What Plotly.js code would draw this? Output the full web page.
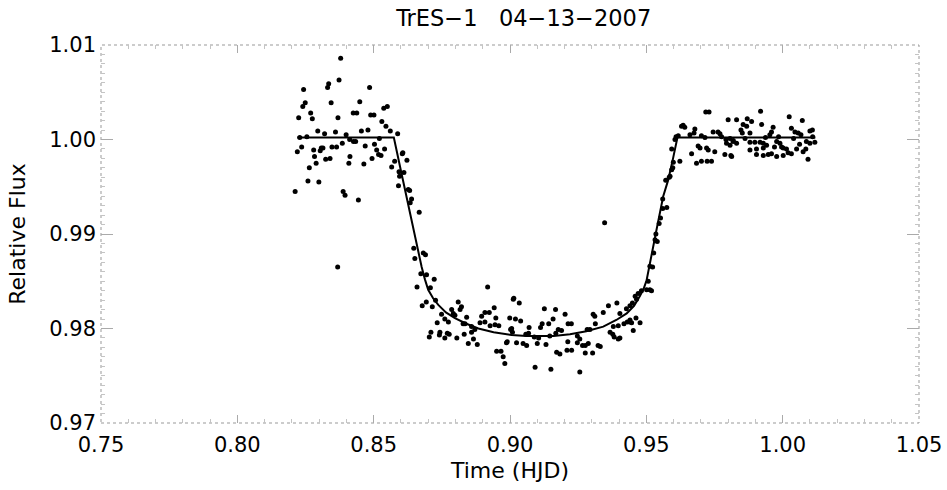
<!DOCTYPE html>
<html>
<head>
<meta charset="utf-8">
<script src="https://cdn.plot.ly/plotly-3.0.1.min.js"></script>
<style>html,body{margin:0;padding:0;background:#fff;}#chart{width:947px;height:490px;}</style>
</head>
<body>
<div id="chart"></div>
<script>
// Observed photometry: time (HJD - offset) and relative flux
const time = [
0.8379,0.8373,0.8335,0.8331,0.8243,0.8485,0.8249,0.8240,0.8344,0.8449,
0.8269,0.8275,0.8225,0.8369,0.8425,0.8438,0.8489,0.8501,0.8537,0.8550,
0.8530,0.8545,0.8561,0.8295,0.8320,0.8360,0.8399,0.8455,0.8479,0.8229,
0.8255,0.8412,0.8426,0.8434,0.8385,0.8469,0.8503,0.8521,0.8236,0.8220,
0.8280,0.8308,0.8314,0.8304,0.8347,0.8364,0.8511,0.8540,0.8518,0.8527,
0.8283,0.8324,0.8340,0.8413,0.8494,0.8289,0.8409,0.8464,0.8264,0.8566,
0.8577,0.8259,0.8299,0.8212,0.8388,0.8395,0.8444,0.8591,0.8607,0.8593,
0.8611,0.8368,
0.8588,0.8605,0.8622,0.8595,0.8627,0.8632,0.8639,0.8634,0.8667,0.8647,
0.8651,0.8682,0.8690,0.8673,0.8694,0.8722,0.8659,0.8708,0.8727,0.8693,
0.8678,0.8715,0.8918,0.9012,0.8810,0.8822,0.8817,0.8749,0.8761,0.8786,
0.8792,0.8798,0.8841,0.8733,0.8774,0.8828,0.8835,0.8859,0.8871,0.8908,
0.8924,0.8942,0.8890,0.8908,0.8927,0.8945,0.8948,0.8999,0.8710,0.8704,
0.8741,0.8743,0.8770,0.8761,0.8777,0.8805,0.8832,0.8847,0.8866,0.8880,
0.8951,0.8967,0.8975,0.8981,0.8990,0.9006,
0.9347,0.9014,0.9034,0.9126,0.9167,0.9202,0.8896,0.9020,0.9039,0.8959,
0.8859,0.9002,0.9009,0.9070,0.9112,0.9118,0.9142,0.9158,0.9177,0.9189,
0.9213,0.9225,0.9305,0.9311,0.9342,0.9361,0.9392,0.9313,0.9283,0.9293,
0.9247,0.9256,0.9247,0.9212,0.9146,0.9168,0.9068,0.9058,0.9089,0.9105,
0.9024,0.9048,0.9061,0.8987,0.9100,0.9132,0.9209,0.9226,0.9171,0.9183,
0.9266,0.9276,0.9287,0.9276,0.9303,0.9323,0.9331,0.9367,0.9377,0.9382,
0.9397,0.9403,0.9379,0.9397,0.9418,0.9440,0.9430,0.9446,0.9462,0.9477,
0.9452,0.9440,0.9459,0.9470,0.9482,0.9513,0.9519,0.9507,0.9513,0.9523,
0.9092,0.9150,0.9256,
0.9403,0.9427,0.9449,0.9464,0.9501,0.9440,0.9527,0.9535,0.9532,0.9540,
0.9547,0.9552,0.9560,0.9575,0.9560,0.9571,0.9584,0.9587,0.9593,0.9597,
0.9599,0.9593,0.9605,0.9609,0.9617,0.9623,0.9629,0.9641,0.9635,0.9666,
0.9684,0.9702,0.9723,0.9739,0.9660,0.9675,0.9678,0.9690,0.9697,0.9721,
0.9727,0.9751,0.9702,0.9715,0.9718,0.9730,0.9745,0.9763,0.9770,0.9776,
0.9792,0.9800,0.9831,0.9788,0.9810,0.9794,0.9818,0.9831,
0.9919,1.0024,1.0072,1.0109,1.0100,0.9855,0.9870,0.9886,0.9923,0.9847,
0.9852,0.9868,0.9880,0.9965,0.9959,0.9953,1.0032,1.0045,1.0057,1.0067,
0.9807,0.9819,0.9807,0.9880,0.9898,0.9917,0.9929,0.9941,0.9978,0.9990,
0.9996,1.0002,1.0014,1.0087,1.0100,1.0118,0.9880,0.9904,0.9929,0.9929,
0.9904,0.9978,1.0002,0.9813,1.0020,1.0032,1.0051,1.0075,1.0093,0.9947,
0.9959,0.9985,1.0040,1.0110,0.9937,0.9862,1.0062,0.9970,1.0085
];
const flux = [
1.0086,1.0063,1.0059,1.0055,1.0053,1.0055,1.0039,1.0035,1.0039,1.0040,
1.0028,1.0022,1.0023,1.0023,1.0028,1.0028,1.0026,1.0026,1.0033,1.0035,
1.0019,1.0014,1.0009,1.0009,1.0006,1.0008,1.0005,1.0009,1.0010,1.0002,
1.0003,1.0000,0.9998,0.9998,0.9996,0.9993,0.9995,1.0001,0.9992,0.9987,
0.9989,0.9991,0.9991,0.9988,0.9992,0.9992,0.9989,0.9990,0.9984,0.9983,
0.9982,0.9979,0.9980,0.9982,0.9980,0.9975,0.9975,0.9974,0.9970,0.9971,
0.9977,0.9956,0.9955,0.9945,0.9945,0.9941,0.9936,0.9951,0.9986,0.9966,
0.9965,0.9865,
1.0006,0.9985,0.9978,0.9961,0.9947,0.9946,0.9937,0.9933,0.9923,0.9885,
0.9874,0.9880,0.9878,0.9858,0.9857,0.9852,0.9844,0.9843,0.9830,0.9828,
0.9824,0.9823,0.9844,0.9831,0.9828,0.9823,0.9820,0.9815,0.9810,0.9820,
0.9816,0.9814,0.9812,0.9806,0.9807,0.9805,0.9805,0.9802,0.9799,0.9817,
0.9817,0.9822,0.9806,0.9807,0.9803,0.9804,0.9811,0.9811,0.9796,0.9791,
0.9793,0.9796,0.9795,0.9790,0.9794,0.9790,0.9794,0.9784,0.9789,0.9783,
0.9776,0.9776,0.9770,0.9763,0.9786,0.9800,
0.9912,0.9832,0.9827,0.9821,0.9820,0.9815,0.9813,0.9810,0.9808,0.9803,
0.9796,0.9799,0.9796,0.9801,0.9801,0.9805,0.9805,0.9810,0.9799,0.9798,
0.9805,0.9805,0.9815,0.9813,0.9817,0.9824,0.9827,0.9805,0.9799,0.9799,
0.9792,0.9789,0.9785,0.9786,0.9792,0.9795,0.9795,0.9794,0.9791,0.9790,
0.9785,0.9784,0.9782,0.9785,0.9784,0.9783,0.9777,0.9777,0.9775,0.9773,
0.9782,0.9782,0.9784,0.9774,0.9774,0.9782,0.9781,0.9796,0.9794,0.9791,
0.9789,0.9790,0.9802,0.9803,0.9805,0.9807,0.9807,0.9806,0.9811,0.9806,
0.9798,0.9824,0.9834,0.9837,0.9840,0.9841,0.9840,0.9850,0.9866,0.9865,
0.9759,0.9757,0.9754,
0.9816,0.9821,0.9827,0.9831,0.9841,0.9809,0.9880,0.9900,0.9894,0.9892,
0.9911,0.9917,0.9927,0.9928,0.9937,0.9957,0.9960,0.9961,0.9968,0.9970,
0.9976,0.9990,1.0000,1.0003,1.0004,0.9977,1.0014,1.0013,1.0015,0.9985,
0.9975,0.9977,0.9977,0.9977,1.0005,1.0007,1.0011,0.9993,0.9991,0.9991,
0.9989,0.9987,1.0004,1.0002,1.0029,1.0029,1.0008,1.0008,1.0006,1.0003,
1.0000,1.0021,1.0021,0.9984,0.9983,0.9996,0.9998,0.9996,
1.0030,1.0024,1.0020,1.0010,1.0009,1.0016,1.0022,1.0019,1.0016,1.0010,
1.0007,1.0014,1.0007,1.0013,1.0008,1.0005,1.0012,1.0008,1.0007,1.0005,
1.0001,0.9999,0.9994,0.9997,0.9997,0.9997,0.9996,0.9994,0.9998,0.9996,
0.9992,0.9991,0.9990,0.9998,0.9996,0.9997,0.9989,0.9990,0.9991,0.9983,
0.9984,0.9982,0.9983,0.9982,0.9986,0.9985,0.9990,0.9987,0.9979,0.9984,
0.9985,1.0003,1.0001,1.0003,1.0002,1.0001,0.9995,0.9992,0.9990
];
// Fitted transit model curve
const modelTime = [0.8220,0.8574,0.8600,0.8625,0.8651,0.8665,0.8676,0.8688,0.8700,0.8718,
  0.8737,0.8765,0.8798,0.8840,0.8884,0.8940,0.9006,0.9060,0.9097,0.9160,0.9220,0.9280,
  0.9342,0.9390,0.9428,0.9455,0.9476,0.9490,0.9501,0.9519,0.9537,0.9562,0.9580,0.9598,
  0.9614,1.0120];
const modelFlux = [1.0002,1.0002,0.9967,0.9933,0.9897,0.9879,0.9865,0.9852,0.9841,0.9832,
  0.9825,0.9817,0.9811,0.9805,0.9800,0.9796,0.9793,0.9792,0.9792,0.9792,0.9794,0.9797,
  0.9802,0.9809,0.9816,0.9824,0.9834,0.9842,0.9851,0.9876,0.9904,0.9940,0.9957,0.9980,
  1.0002,1.0002];
const xTickVals = [0.75,0.80,0.85,0.90,0.95,1.00,1.05];
const xTickText = ["0.75","0.80","0.85","0.90","0.95","1.00","1.05"];
const yTickVals = [0.97,0.98,0.99,1.00,1.01];
const yTickText = ["0.97","0.98","0.99","1.00","1.01"];

const FONT = "DejaVu Sans, Liberation Sans, sans-serif";

const traces = [
  {x: time, y: flux, type: 'scatter', mode: 'markers',
   marker: {color: '#000', size: 5}, hoverinfo: 'skip'},
  {x: modelTime, y: modelFlux, type: 'scatter', mode: 'lines',
   line: {color: '#000', width: 2}, hoverinfo: 'skip'}
];

const axisCommon = {
  showgrid: false, zeroline: false, showline: false,
  ticks: 'inside', tickcolor: '#aaa', tickwidth: 1,
  mirror: 'ticks', tickfont: {family: FONT, size: 21, color: '#000'}
};

const layout = {
  width: 947, height: 490,
  margin: {l: 101, r: 28, t: 45, b: 67},
  paper_bgcolor: '#fff', plot_bgcolor: '#fff',
  showlegend: false,
  title: {text: 'TrES\u22121\u00a0\u00a0 04\u221213\u22122007', font: {family: FONT, size: 22.5, color: '#000'},
          x: 0.553, xanchor: 'center', y: 0.963, yanchor: 'middle'},
  xaxis: Object.assign({}, axisCommon, {
    range: [0.75, 1.05], tickvals: xTickVals, ticktext: xTickText, ticklen: 8,
    ticklabelstandoff: 7,
    minor: {ticks: 'inside', dtick: 0.01, tick0: 0.75, ticklen: 4, tickcolor: '#c4c4c4', showgrid: false},
    title: {text: 'Time (HJD)', font: {family: FONT, size: 22, color: '#000'}, standoff: 6}
  }),
  yaxis: Object.assign({}, axisCommon, {
    range: [0.97, 1.01], tickvals: yTickVals, ticktext: yTickText, ticklen: 12,
    ticklabelstandoff: 4,
    minor: {ticks: 'inside', dtick: 0.001, tick0: 0.97, ticklen: 4, tickcolor: '#c4c4c4', showgrid: false},
    title: {text: 'Relative Flux', font: {family: FONT, size: 22, color: '#000'}, standoff: 17}
  }),
  shapes: [{type: 'rect', xref: 'paper', yref: 'paper', x0: 0, x1: 1, y0: 0, y1: 1,
            line: {color: '#999', width: 1, dash: 'dot'}, layer: 'below'}]
};

Plotly.newPlot('chart', traces, layout, {staticPlot: true, displayModeBar: false});
</script>
</body>
</html>
